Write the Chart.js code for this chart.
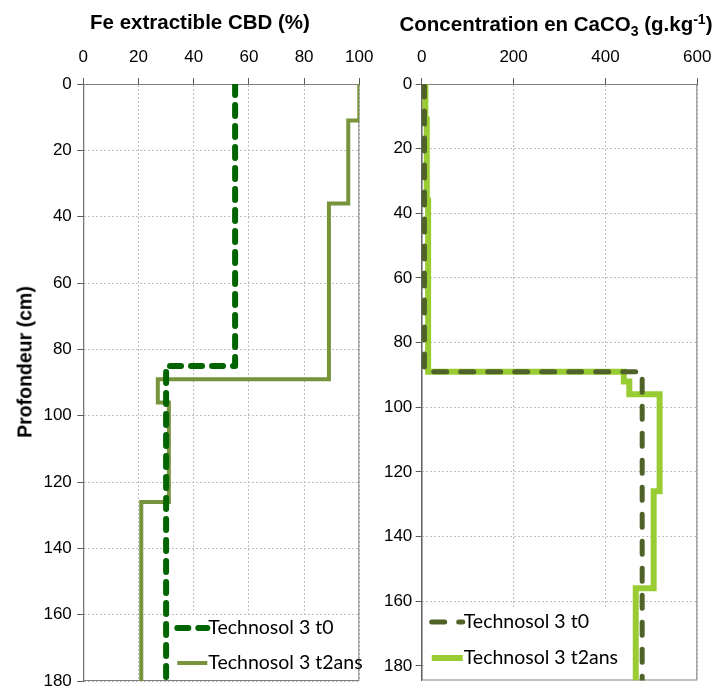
<!DOCTYPE html>
<html>
<head>
<meta charset="utf-8">
<script src="https://cdn.jsdelivr.net/npm/chart.js@4.4.0/dist/chart.umd.min.js"></script>
<style>
  body { margin: 0; background: #fff; }
  #wrap { position: relative; width: 716px; height: 686px; overflow: hidden; font-family: "Liberation Sans", Arial, sans-serif; color: #000; }
  canvas { position: absolute; top: 0; }
  #cFe { left: 0; }
  #cCa { left: 370px; }
  .title { position: absolute; font-weight: bold; font-size: 20.5px; white-space: nowrap; transform: translate(-50%, -50%); }
  .ytitle { position: absolute; font-weight: bold; font-size: 19.5px; white-space: nowrap; transform: translate(-50%, -50%) rotate(-90deg); }
  sub, sup { font-size: 14px; }
</style>
</head>
<body>
<div id="wrap">
  <canvas id="cFe" width="380" height="686"></canvas>
  <canvas id="cCa" width="346" height="686"></canvas>
  <div class="title" style="left:200px; top:22px;">Fe extractible CBD (%)</div>
  <div class="title" style="left:556px; top:25px;">Concentration en CaCO<sub>3</sub> (g.kg<sup>-1</sup>)</div>
  <div class="ytitle" style="left:25px; top:362px;">Profondeur (cm)</div>
</div>
<script>
// depth (cm) breakpoints and the value of each layer between them
const feDepthT0 = [0, 85, 180];
const feT0 = [55, 30];
const feDepthT2 = [0, 11, 36, 89, 96, 126, 180];
const feT2 = [100, 96, 89, 27, 31, 21];

const caDepthT0 = [0, 89, 184.5];
const caT0 = [6, 480];
const caDepthT2 = [0, 11, 36, 89, 92, 96, 126, 156, 184.5];
const caT2 = [8, 11, 14, 440, 452, 518, 505, 466];

const depthTicks = [0, 20, 40, 60, 80, 100, 120, 140, 160, 180];
const feTicks = [0, 20, 40, 60, 80, 100];
const caTicks = [0, 200, 400, 600];

const seriesNames = ['Technosol 3 t0', 'Technosol 3 t2ans'];

function steps(depths, values) {
  const pts = [];
  values.forEach((v, i) => {
    pts.push({x: v, y: depths[i]});
    pts.push({x: v, y: depths[i + 1]});
  });
  return pts;
}

// white legend box + plot frame, drawn over the grid and under the lines
const frameLegend = {
  id: 'frameLegend',
  beforeDatasetsDraw(chart, args, opts) {
    const ctx = chart.ctx;
    const a = chart.chartArea;
    ctx.save();
    const bx = a.left + opts.dx;
    ctx.fillStyle = '#fff';
    ctx.fillRect(bx, opts.top, a.right - bx - 1, a.bottom - opts.top);
    ctx.strokeStyle = '#7f7f7f';
    ctx.lineWidth = 1;
    ctx.strokeRect(a.left + 0.5, a.top + 0.5, a.right - a.left - 1, a.bottom - a.top - 1);
    ctx.font = '19.5px Lato';
    ctx.textBaseline = 'middle';
    chart.data.datasets.forEach((ds, i) => {
      const yy = opts.rows[i];
      const x0 = bx + opts.sx;
      ctx.beginPath();
      ctx.setLineDash(ds.borderDash || []);
      ctx.lineCap = ds.borderCapStyle || 'butt';
      ctx.lineWidth = ds.borderWidth;
      ctx.strokeStyle = ds.borderColor;
      ctx.moveTo(x0, yy);
      ctx.lineTo(x0 + opts.len, yy);
      ctx.stroke();
      ctx.setLineDash([]);
      ctx.fillStyle = '#000';
      ctx.fillText(ds.label, x0 + opts.len + 1, yy);
    });
    ctx.restore();
  }
};

function noPad(s) {
  s.paddingLeft = 0;
  s.paddingRight = 0;
  s.paddingTop = 0;
  s.paddingBottom = 0;
}

function makeChart(id, xTicks, xMax, yMax, yWidth, padRight, padBottom, yPad, datasets, legendOpts) {
  const tickFont = {family: '"Liberation Sans", Arial, sans-serif', size: 17};
  return new Chart(document.getElementById(id), {
    type: 'scatter',
    data: {datasets: datasets},
    options: {
      responsive: false,
      animation: false,
      layout: {padding: {left: 0, top: 0, right: padRight, bottom: padBottom}},
      plugins: {
        legend: {display: false},
        tooltip: {enabled: false},
        frameLegend: legendOpts
      },
      elements: {point: {radius: 0}},
      scales: {
        x: {
          type: 'linear',
          position: 'top',
          min: 0,
          max: xMax,
          afterBuildTicks: s => { s.ticks = xTicks.map(v => ({value: v})); },
          afterFit: s => { s.height = 84; noPad(s); },
          grid: {color: '#bfbfbf', tickColor: '#595959', tickLength: 6, tickWidth: 1},
          border: {color: '#595959', dash: [2, 2]},
          ticks: {color: '#000', font: tickFont, padding: 10, maxRotation: 0, autoSkip: false}
        },
        y: {
          type: 'linear',
          reverse: true,
          min: 0,
          max: yMax,
          afterBuildTicks: s => { s.ticks = depthTicks.map(v => ({value: v})); },
          afterFit: s => { s.width = yWidth; noPad(s); },
          grid: {color: '#bfbfbf', tickColor: '#595959', tickLength: 6, tickWidth: 1},
          border: {color: '#595959', dash: [2, 2]},
          ticks: {color: '#000', font: tickFont, padding: yPad, autoSkip: false}
        }
      }
    },
    plugins: [frameLegend]
  });
}

makeChart('cFe', feTicks, 100, 180, 83.3, 20.7, 5, 5.5, [
  {
    label: seriesNames[0],
    data: steps(feDepthT0, feT0),
    showLine: true,
    borderColor: '#006400',
    borderWidth: 6,
    borderDash: [11, 10],
    borderCapStyle: 'round',
    borderJoinStyle: 'round'
  },
  {
    label: seriesNames[1],
    data: steps(feDepthT2, feT2),
    showLine: true,
    borderColor: '#77933C',
    borderWidth: 4,
    borderJoinStyle: 'miter'
  }
], {dx: 87, top: 617, sx: 7, len: 30, rows: [628, 663]});

makeChart('cCa', caTicks, 600, 184.5, 51.7, 18.7, 5.5, 3.4, [
  {
    label: seriesNames[0],
    data: steps(caDepthT0, caT0),
    showLine: true,
    borderColor: '#4F6228',
    borderWidth: 5,
    borderDash: [13, 14],
    borderCapStyle: 'round',
    borderJoinStyle: 'round'
  },
  {
    label: seriesNames[1],
    data: steps(caDepthT2, caT2),
    showLine: true,
    borderColor: '#99CC33',
    borderWidth: 6,
    borderJoinStyle: 'miter'
  }
], {dx: 3, top: 608, sx: 7, len: 31, rows: [622, 658]});
</script>
</body>
</html>
